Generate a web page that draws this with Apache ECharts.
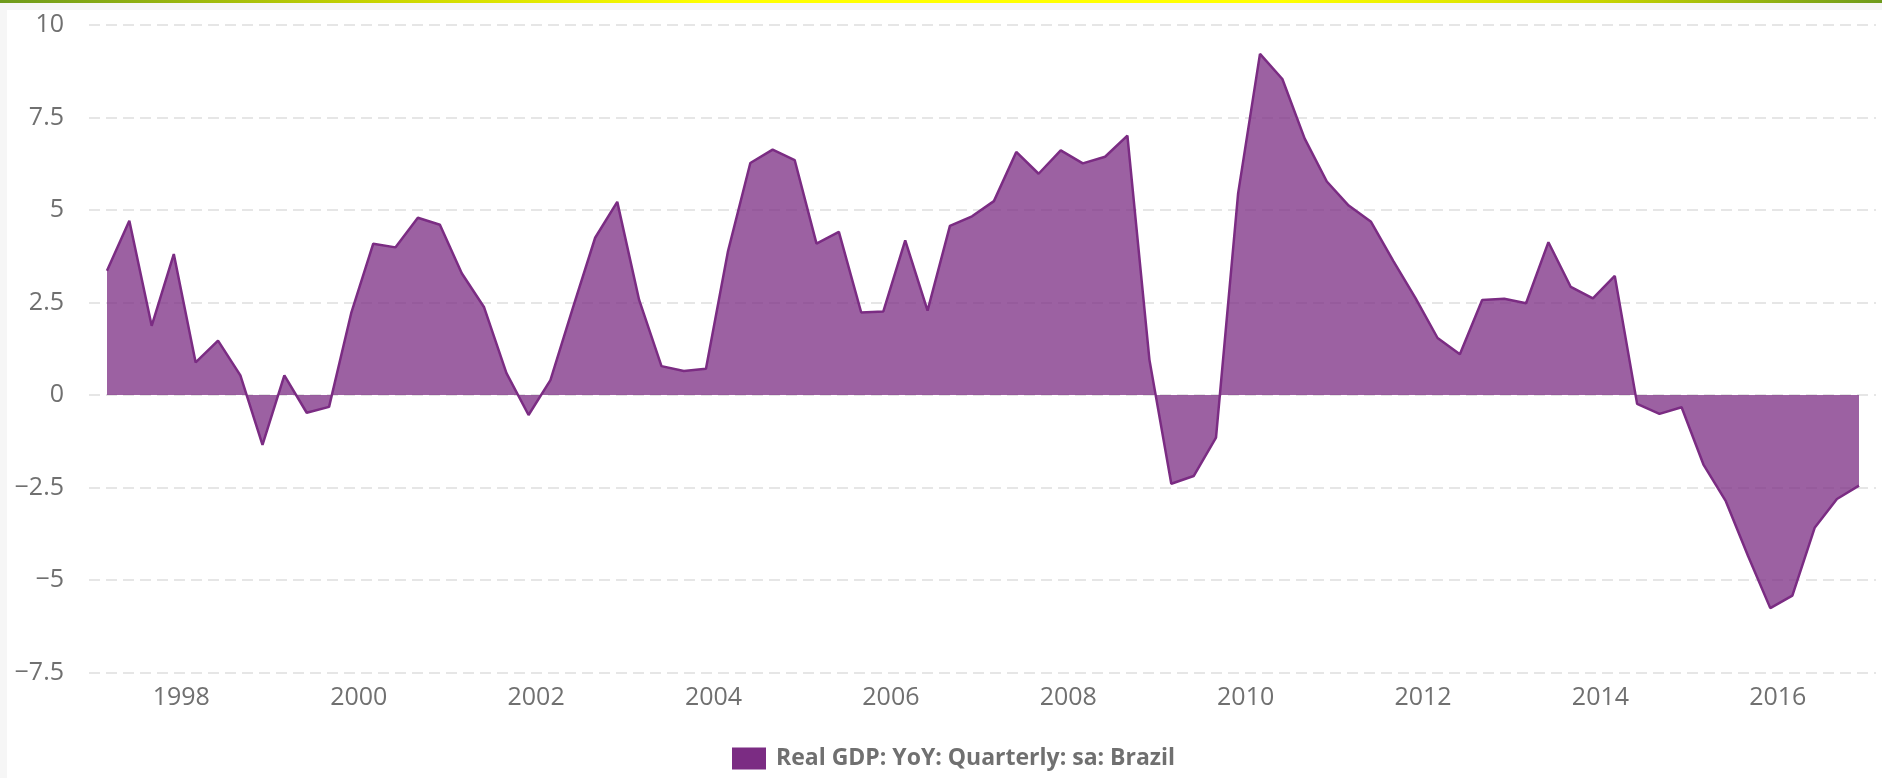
<!DOCTYPE html>
<html>
<head>
<meta charset="utf-8">
<script src="https://cdn.jsdelivr.net/npm/echarts@6/dist/echarts.min.js"></script>
<style>
  html, body { margin: 0; padding: 0; width: 1882px; height: 778px; overflow: hidden; background: #f6f6f6; }
  #topbar { position: absolute; left: 0; top: 0; width: 1882px; height: 3px;
    background: linear-gradient(to right, #6e9a1c 0%, #c8d400 20%, #ffff00 38%, #ffff00 68%, #c8d400 85%, #6e9a1c 100%); }
  #panel { position: absolute; left: 7px; top: 10px; width: 1875px; height: 768px; background: #ffffff; }
  #chart { position: absolute; left: 0; top: 0; width: 1882px; height: 778px; }
</style>
</head>
<body>
<div id="topbar"></div>
<div id="panel"></div>
<div id="chart"></div>
<script>
// Quarterly periods 1997 Q1 .. 2016 Q4 (points plotted at the first day of each quarter's last month)
const years = [1997,1998,1999,2000,2001,2002,2003,2004,2005,2006,2007,2008,2009,2010,2011,2012,2013,2014,2015,2016];
const quarterMonths = [3, 6, 9, 12];

// Real GDP: YoY: Quarterly: sa: Brazil (%)
const gdpYoY = [
  3.36, 4.71, 1.87, 3.81,
  0.88, 1.47, 0.53, -1.35,
  0.53, -0.48, -0.32, 2.21,
  4.09, 3.99, 4.79, 4.60,
  3.29, 2.37, 0.59, -0.54,
  0.40, 2.35, 4.25, 5.22,
  2.57, 0.78, 0.65, 0.71,
  3.89, 6.27, 6.63, 6.35,
  4.09, 4.41, 2.23, 2.26,
  4.18, 2.28, 4.57, 4.83,
  5.24, 6.57, 5.98, 6.61,
  6.26, 6.44, 7.01, 0.95,
  -2.40, -2.19, -1.15, 5.45,
  9.22, 8.54, 6.93, 5.77,
  5.12, 4.68, 3.62, 2.62,
  1.54, 1.10, 2.57, 2.60,
  2.48, 4.13, 2.92, 2.61,
  3.22, -0.24, -0.51, -0.33,
  -1.88, -2.87, -4.36, -5.76,
  -5.42, -3.59, -2.81, -2.45
];

const yearTicks = [1998, 2000, 2002, 2004, 2006, 2008, 2010, 2012, 2014, 2016];
const yTicks = { min: -7.5, max: 10, interval: 2.5 };
const seriesName = 'Real GDP: YoY: Quarterly: sa: Brazil';

// period list -> fractional year positions on the time scale
const periods = [];
years.forEach(y => quarterMonths.forEach(m => periods.push([y, m])));
function fracYear(y, m) {
  const start = Date.UTC(y, 0, 1), end = Date.UTC(y + 1, 0, 1);
  return y + (Date.UTC(y, m - 1, 1) - start) / (end - start);
}
const seriesData = periods.map((p, i) => [fracYear(p[0], p[1]), gdpYoY[i]]);

const FONT = '"Open Sans", "Noto Sans", sans-serif';
const LABEL_COLOR = '#707070';
const PURPLE = '#7b2c83';

const chart = echarts.init(document.getElementById('chart'), null, { renderer: 'canvas' });
chart.setOption({
  animation: false,
  backgroundColor: 'transparent',
  grid: { left: 89, right: 6, top: 25, bottom: 105.5, containLabel: false },
  legend: {
    left: 732, top: 747, padding: 0,
    itemWidth: 34, itemHeight: 22, itemGap: 20,
    selectedMode: false,
    data: [{ name: seriesName, icon: 'rect', itemStyle: { color: PURPLE, opacity: 1 } }],
    textStyle: { fontFamily: FONT, fontSize: 23, fontWeight: 'bold', color: LABEL_COLOR, padding: [0, 0, 0, 5] }
  },
  xAxis: {
    type: 'value',
    min: 1996.959, max: 2017.107,
    axisLine: { show: false },
    axisTick: { show: false },
    splitLine: { show: false },
    axisLabel: {
      customValues: yearTicks,
      formatter: v => String(Math.round(v)),
      fontFamily: FONT, fontSize: 25, color: LABEL_COLOR, margin: 13
    }
  },
  yAxis: {
    type: 'value',
    min: yTicks.min, max: yTicks.max, interval: yTicks.interval,
    axisLine: { show: false },
    axisTick: { show: false },
    splitLine: { show: true, lineStyle: { color: '#e6e6e6', width: 2, type: [11, 6] } },
    axisLabel: {
      formatter: v => String(v).replace('-', '\u2212'),
      fontFamily: FONT, fontSize: 25, color: LABEL_COLOR, margin: 25
    }
  },
  series: [{
    name: seriesName,
    type: 'line',
    data: seriesData,
    symbol: 'none',
    showSymbol: false,
    lineStyle: { color: PURPLE, width: 2.5 },
    itemStyle: { color: PURPLE },
    areaStyle: { color: PURPLE, opacity: 0.75 },
    z: 3
  }]
});
</script>
</body>
</html>
